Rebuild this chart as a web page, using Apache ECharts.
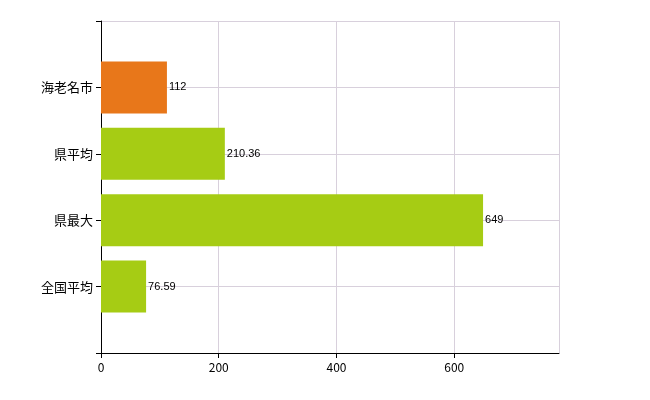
<!DOCTYPE html>
<html>
<head>
<meta charset="utf-8">
<script src="https://cdn.jsdelivr.net/npm/echarts@6/dist/echarts.min.js"></script>
<style>html,body{margin:0;padding:0;background:#fff}#main{width:650px;height:400px}</style>
</head>
<body>
<div id="main"></div>
<script>
// カテゴリ（下から）。前後の空欄は余白用
const categories = ['', '全国平均', '県最大', '県平均', '海老名市', '']
const values = [null, 76.59, 649, 210.36, 112, null]
const barColors = ['#a6cc14', '#a6cc14', '#a6cc14', '#a6cc14', '#e8771a', '#a6cc14']
const xTicks = { min: 0, max: 778, interval: 200 }

const chart = echarts.init(document.getElementById('main'))

const option = {
  animation: false,
  grid: { left: 101, right: 91, top: 21, bottom: 47 },
  xAxis: {
    type: 'value',
    min: xTicks.min,
    max: xTicks.max,
    interval: xTicks.interval,
    axisLine: { show: true, lineStyle: { color: '#000' } },
    axisTick: { show: true, lineStyle: { color: '#000' } },
    axisLabel: { color: '#000', fontSize: 12, fontFamily: 'Noto Sans CJK JP', showMaxLabel: false },
    splitLine: { show: true, lineStyle: { color: '#d8d0dc' } }
  },
  yAxis: {
    type: 'category',
    data: categories,
    boundaryGap: false,
    axisLine: { show: true, lineStyle: { color: '#000' } },
    axisTick: { show: true, lineStyle: { color: '#000' } },
    axisLabel: { color: '#000', fontSize: 13, fontFamily: 'Noto Sans CJK JP' },
    splitLine: { show: true, lineStyle: { color: '#d8d0dc' } }
  },
  series: [
    {
      type: 'bar',
      barWidth: 52,
      data: values.map((v, i) => ({ value: v, itemStyle: { color: barColors[i] } })),
      label: {
        show: true,
        position: 'right',
        distance: 2,
        color: '#000',
        fontSize: 11,
        fontFamily: 'Liberation Sans'
      }
    }
  ]
}

chart.setOption(option)
</script>
</body>
</html>
